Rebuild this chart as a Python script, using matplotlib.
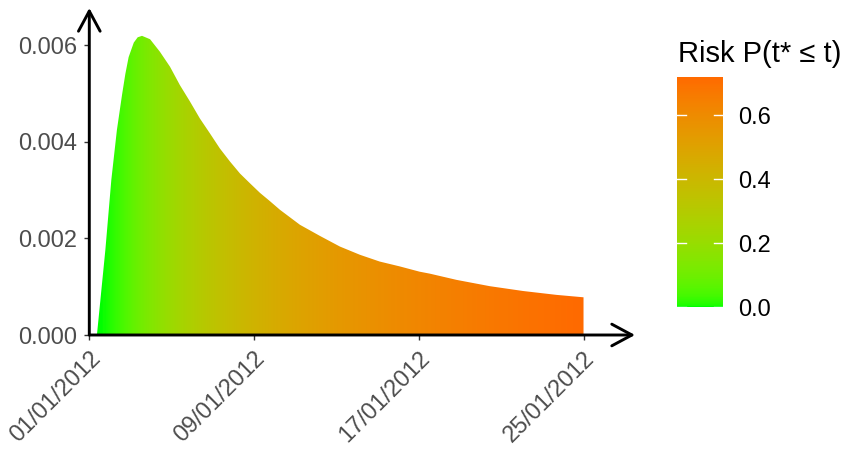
import numpy as np
import matplotlib
matplotlib.use("Agg")
import matplotlib.pyplot as plt
from matplotlib.colors import ListedColormap, Normalize
from matplotlib.patches import Polygon
from matplotlib.cm import ScalarMappable

plt.rcParams['font.family'] = ['Liberation Sans', 'DejaVu Sans']

# ---- data ----
days = [0.37, 0.78, 1.07, 1.34, 1.59, 1.75, 1.91, 2.16, 2.35, 2.56, 2.95, 3.43,
        3.92, 4.40, 4.89, 5.37, 5.86, 6.34, 6.83, 7.32, 7.80, 8.29, 8.77, 9.26,
        10.23, 11.20, 12.17, 13.14, 14.10, 15.07, 16.04, 16.53, 17.84, 19.45,
        21.07, 22.69, 24.0]
density = [0.0, 0.00176, 0.00321, 0.00424, 0.00497, 0.00540, 0.00575, 0.00605,
           0.00616, 0.00619, 0.00612, 0.00586, 0.00555, 0.00517, 0.00483, 0.00448,
           0.00417, 0.00386, 0.00359, 0.00334, 0.00314, 0.00294, 0.00277, 0.00259,
           0.00228, 0.00205, 0.00183, 0.00166, 0.00152, 0.00142, 0.00131, 0.00127,
           0.00114, 0.00101, 0.00091, 0.00083, 0.00078]
risk_end = 0.719          # cumulative risk at the last date (top of colour bar)
x_ticks = [0, 8, 16, 24]
x_tick_labels = ['01/01/2012', '09/01/2012', '17/01/2012', '25/01/2012']
y_ticks = [0.0, 0.002, 0.004, 0.006]
cbar_ticks = [0.0, 0.2, 0.4, 0.6]

days = np.array(days)
density = np.array(density)
# cumulative risk along the curve (area under density), scaled to the read end value
cum = np.concatenate([[0], np.cumsum(np.diff(days) * (density[1:] + density[:-1]) / 2)])
risk = cum / cum[-1] * risk_end

# ---- ggplot-like Lab gradient colormap ----
def _hex2rgb(h):
    h = h.lstrip('#')
    return np.array([int(h[i:i + 2], 16) / 255 for i in (0, 2, 4)])

_M = np.array([[0.4124564, 0.3575761, 0.1804375],
               [0.2126729, 0.7151522, 0.0721750],
               [0.0193339, 0.1191920, 0.9503041]])
_W = np.array([0.95047, 1.0, 1.08883])

def rgb2lab(c):
    lin = np.where(c <= 0.04045, c / 12.92, ((c + 0.055) / 1.055) ** 2.4)
    xyz = _M @ lin / _W
    f = np.where(xyz > 0.008856, np.cbrt(xyz), 7.787 * xyz + 16 / 116)
    return np.array([116 * f[1] - 16, 500 * (f[0] - f[1]), 200 * (f[1] - f[2])])

def lab2rgb(lab):
    L, a, b = lab
    fy = (L + 16) / 116
    fx = fy + a / 500
    fz = fy - b / 200
    f = np.array([fx, fy, fz])
    xyz = np.where(f ** 3 > 0.008856, f ** 3, (f - 16 / 116) / 7.787) * _W
    lin = np.linalg.solve(_M, xyz)
    lin = np.clip(lin, 0, 1)
    c = np.where(lin <= 0.0031308, 12.92 * lin, 1.055 * lin ** (1 / 2.4) - 0.055)
    return np.clip(c, 0, 1)

lo, hi = rgb2lab(_hex2rgb('#00FF00')), rgb2lab(_hex2rgb('#FF6A00'))
cols = [lab2rgb(lo + (hi - lo) * t) for t in np.linspace(0, 1, 256)]
cmap = ListedColormap(cols)
norm = Normalize(vmin=risk.min(), vmax=risk.max())

# ---- figure ----
W, H = 845, 450
fig = plt.figure(figsize=(W / 100, H / 100), dpi=100)
ax = fig.add_axes([89.3 / W, 1 - 335 / H, (635 - 89.3) / W, (335 - 8) / H])
ax.set_xlim(0, 26.5)
ax.set_ylim(0, 0.006766)

xs = np.linspace(days[0], days[-1], 1200)
vals = np.interp(xs, days, risk)[None, :]
im = ax.imshow(vals, extent=[days[0], days[-1], 0, density.max()], origin='lower',
               aspect='auto', cmap=cmap, norm=norm, interpolation='bilinear', zorder=1)
verts = list(zip(days, density)) + [(days[-1], 0), (days[0], 0)]
poly = Polygon(verts, closed=True, facecolor='none', edgecolor='none', transform=ax.transData)
ax.add_patch(poly)
im.set_clip_path(poly)

for s in ax.spines.values():
    s.set_visible(False)

arrow_kw = dict(arrowstyle='->,head_length=14.5,head_width=7.8', lw=2.1, color='black',
                shrinkA=0, shrinkB=0, mutation_scale=1)
ax.annotate('', xy=(1, 0), xycoords='axes fraction', xytext=(0, 0),
            textcoords='axes fraction', arrowprops=arrow_kw, annotation_clip=False)
ax.annotate('', xy=(0, 1), xycoords='axes fraction', xytext=(0, 0),
            textcoords='axes fraction', arrowprops=arrow_kw, annotation_clip=False)

ax.set_xticks(x_ticks)
ax.set_xticklabels(x_tick_labels, rotation=45, ha='right', va='top', rotation_mode='anchor')
ax.set_yticks(y_ticks)
ax.set_yticklabels([f'{v:.3f}' for v in y_ticks])
ax.tick_params(axis='both', length=3.5, width=1.0, color='#333333', labelcolor='#4D4D4D',
               labelsize=17, pad=5.5)

# ---- colour bar ----
cax = fig.add_axes([677 / W, 1 - 307.3 / H, 46 / W, 230 / H])
cb = fig.colorbar(ScalarMappable(norm=norm, cmap=cmap), cax=cax)
cb.outline.set_visible(False)
cb.set_ticks(cbar_ticks)
cb.set_ticklabels([f'{v:.1f}' for v in cbar_ticks])
cax.tick_params(length=0, labelsize=17, labelcolor='black', pad=11)
for v in cbar_ticks:
    cax.plot([0, 0.2], [v, v], color='white', lw=1, transform=cax.get_yaxis_transform(),
             clip_on=False)
    cax.plot([0.8, 1.0], [v, v], color='white', lw=1, transform=cax.get_yaxis_transform(),
             clip_on=False)
fig.text(678 / W, 1 - 62 / H, 'Risk P(t* \u2264 t)', fontsize=21, color='black',
         ha='left', va='baseline')

fig.savefig('out.png', dpi=100)
